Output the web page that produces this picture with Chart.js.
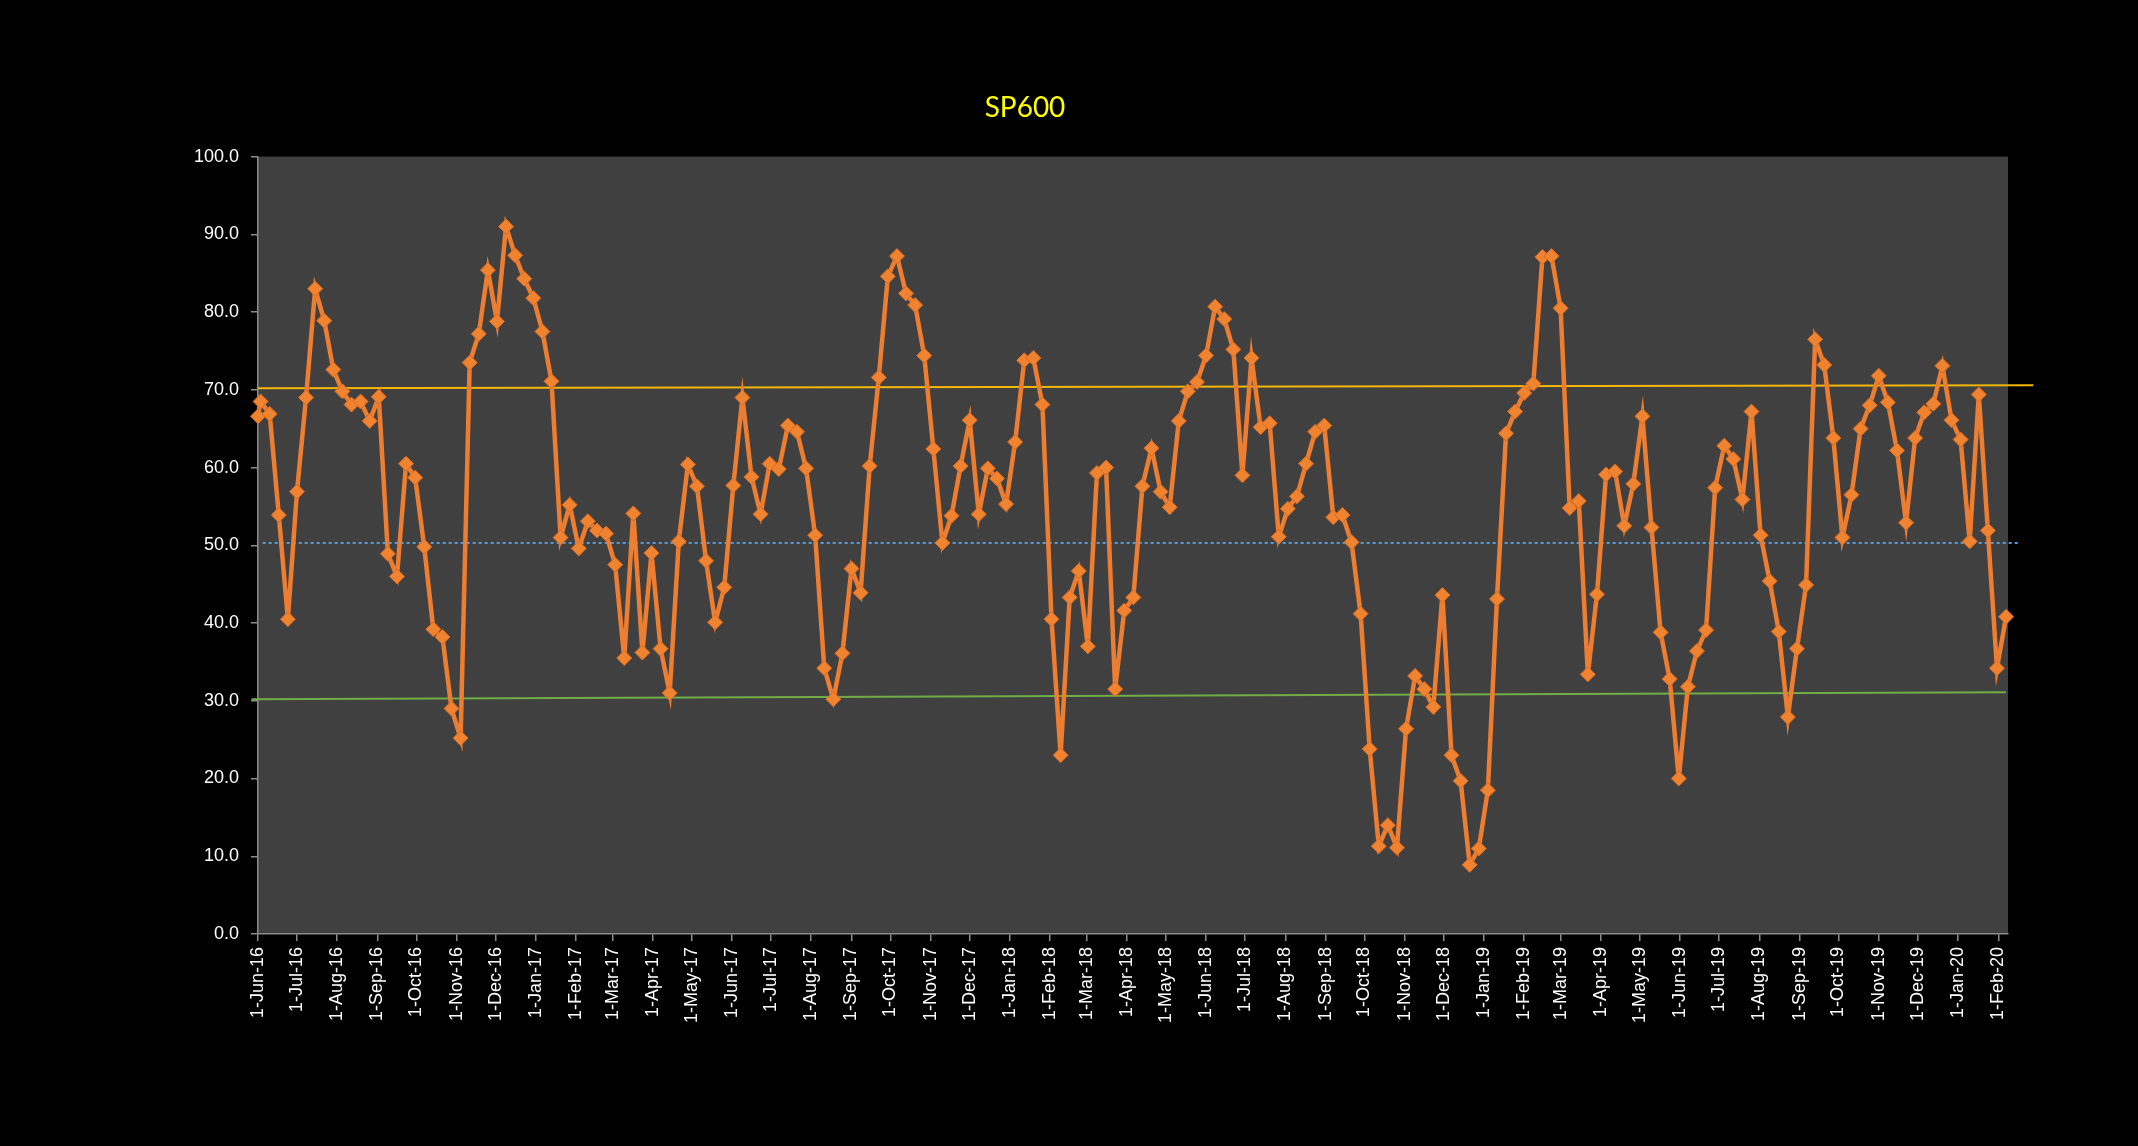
<!DOCTYPE html>
<html>
<head>
<meta charset="utf-8">
<title>SP600</title>
<script src="https://cdn.jsdelivr.net/npm/chart.js@4.4.1/dist/chart.umd.min.js"></script>
<style>
    html, body { margin: 0; padding: 0; background: #000; }
    canvas { display: block; }
</style>
</head>
<body>
<canvas id="sp600-chart" width="2138" height="1146"></canvas>
<script>
// weekly readings, first one on 1-Jun-16 then every Friday from 3-Jun-16
const sp600 = [
    66.6, 68.5, 66.9, 53.9, 40.5, 56.9, 69.0, 83.0, 78.9, 72.6,
    69.8, 68.1, 68.5, 66.0, 69.1, 48.9, 46.0, 60.5, 58.7, 49.8,
    39.2, 38.2, 29.0, 25.2, 73.5, 77.2, 85.4, 78.8, 91.0, 87.3,
    84.3, 81.8, 77.5, 71.1, 51.0, 55.2, 49.6, 53.1, 51.9, 51.5,
    47.5, 35.5, 54.1, 36.2, 49.0, 36.7, 31.0, 50.5, 60.4, 57.6,
    48.0, 40.1, 44.6, 57.7, 69.0, 58.8, 54.0, 60.5, 59.8, 65.4,
    64.6, 59.9, 51.3, 34.2, 30.2, 36.1, 47.0, 43.9, 60.2, 71.6,
    84.6, 87.2, 82.4, 80.9, 74.4, 62.4, 50.3, 53.8, 60.2, 66.1,
    54.0, 59.9, 58.6, 55.3, 63.3, 73.8, 74.1, 68.1, 40.5, 23.0,
    43.3, 46.7, 37.0, 59.3, 60.0, 31.5, 41.6, 43.3, 57.6, 62.5,
    56.9, 54.9, 66.0, 69.8, 71.0, 74.4, 80.7, 79.1, 75.2, 59.0,
    74.1, 65.2, 65.7, 51.1, 54.7, 56.3, 60.5, 64.6, 65.4, 53.6,
    53.9, 50.4, 41.2, 23.8, 11.3, 14.0, 11.1, 26.4, 33.2, 31.5,
    29.2, 43.6, 23.0, 19.7, 8.9, 11.0, 18.5, 43.1, 64.4, 67.2,
    69.6, 70.8, 87.1, 87.2, 80.5, 54.8, 55.7, 33.4, 43.7, 59.1,
    59.5, 52.5, 57.9, 66.6, 52.3, 38.8, 32.8, 20.0, 31.8, 36.4,
    39.1, 57.4, 62.8, 61.1, 55.9, 67.2, 51.3, 45.4, 38.9, 27.9,
    36.7, 44.9, 76.5, 73.2, 63.8, 51.0, 56.5, 65.0, 68.0, 71.8,
    68.4, 62.2, 52.9, 63.8, 67.1, 68.2, 73.1, 66.1, 63.6, 50.5,
    69.4, 51.9, 34.2, 40.8
];

// level lines (start, end)
const upperLine = [70.2, 70.6];
const midLine = [50.3, 50.3];
const lowerLine = [30.2, 31.1];

const yTicks = [0, 10, 20, 30, 40, 50, 60, 70, 80, 90, 100];
const monthNames = ['Jan', 'Feb', 'Mar', 'Apr', 'May', 'Jun', 'Jul', 'Aug', 'Sep', 'Oct', 'Nov', 'Dec'];

const DAY = 86400000;
const startDay = Date.UTC(2016, 5, 1);
const firstFriday = Date.UTC(2016, 5, 3);

function dayOf(ms) {
    return (ms - startDay) / DAY;
}

// x position of every reading, in days from 1-Jun-16
let pointDays = [0];
for (let i = 1; i < sp600.length; i++) {
    pointDays.push(dayOf(firstFriday) + (i - 1) * 7);
}

// month ticks 1-Jun-16 .. 1-Feb-20
let monthTicks = [];
let monthLabels = {};
for (let y = 2016, m = 5; y < 2020 || (y == 2020 && m <= 1); m++) {
    if (m > 11) { m = 0; y++; }
    if (y == 2020 && m > 1) break;
    let d = dayOf(Date.UTC(y, m, 1));
    monthTicks.push(d);
    monthLabels[d] = '1-' + monthNames[m] + '-' + String(y).slice(2);
}

const plotBg = {
    id: 'plotBg',
    beforeDraw(chart) {
        const a = chart.chartArea;
        const c = chart.ctx;
        c.save();
        c.fillStyle = '#000000';
        c.fillRect(0, 0, chart.width, chart.height);
        c.fillStyle = '#404040';
        c.fillRect(a.left, a.top, a.right - a.left, a.bottom - a.top);
        c.restore();
    }
};

const axisGrey = '#8c8c8c';
const tickFont = { family: "'Liberation Sans', Arial, sans-serif", size: 18 };

const ctx = document.getElementById('sp600-chart');
const myChart = new Chart(ctx, {
    type: 'line',
    data: {
        datasets: [
            {
                label: 'SP600',
                data: sp600.map((v, i) => ({ x: pointDays[i], y: v })),
                borderColor: '#ED7D31',
                borderWidth: 4.5,
                pointStyle: 'rectRot',
                pointRadius: 7.5,
                pointBackgroundColor: '#F0832F',
                pointBorderColor: '#D96A22',
                pointBorderWidth: 1,
                tension: 0,
                clip: false
            },
            {
                label: 'upper',
                data: [{ x: 0, y: upperLine[0] }, { x: 1367, y: upperLine[1] }],
                borderColor: '#F5B70A',
                borderWidth: 2,
                pointRadius: 0,
                clip: false
            },
            {
                label: 'mid',
                data: [{ x: 3.6, y: midLine[0] }, { x: 1357, y: midLine[1] }],
                borderColor: '#5B9BD5',
                borderWidth: 2,
                borderDash: [3, 3],
                pointRadius: 0,
                clip: false
            },
            {
                label: 'lower',
                data: [{ x: -5, y: lowerLine[0] }, { x: 1346, y: lowerLine[1] }],
                borderColor: '#70AD47',
                borderWidth: 2,
                pointRadius: 0,
                clip: false
            }
        ]
    },
    options: {
        responsive: false,
        devicePixelRatio: 1,
        animation: false,
        layout: { padding: { top: 0, left: 42, right: 130, bottom: 0 } },
        plugins: {
            legend: { display: false },
            tooltip: { enabled: false },
            title: {
                display: true,
                text: 'SP600',
                color: '#FFFF00',
                font: { family: "Lato, 'Open Sans', sans-serif", size: 28, weight: 'normal', lineHeight: 1.2 },
                padding: { top: 91, bottom: 32 }
            }
        },
        scales: {
            x: {
                type: 'linear',
                min: 0,
                max: 1347.5,
                afterBuildTicks: (scale) => {
                    scale.ticks = monthTicks.map(v => ({ value: v }));
                },
                afterFit: (scale) => { scale.height = 212; },
                ticks: {
                    callback: (v) => monthLabels[v],
                    autoSkip: false,
                    maxRotation: 90,
                    minRotation: 90,
                    color: '#ffffff',
                    padding: 6,
                    font: tickFont
                },
                grid: { display: true, drawOnChartArea: false, drawTicks: true, tickLength: 7, color: axisGrey, lineWidth: 1.5 },
                border: { display: true, color: axisGrey, width: 1.5 }
            },
            y: {
                min: 0,
                max: 100,
                afterBuildTicks: (scale) => {
                    scale.ticks = yTicks.map(v => ({ value: v }));
                },
                afterFit: (scale) => { scale.width = 216; },
                ticks: {
                    callback: (v) => v.toFixed(1),
                    color: '#ffffff',
                    padding: 12,
                    font: tickFont
                },
                grid: { display: true, drawOnChartArea: false, drawTicks: true, tickLength: 7, color: axisGrey, lineWidth: 1.5 },
                border: { display: true, color: axisGrey, width: 1.5 }
            }
        }
    },
    plugins: [plotBg]
});
</script>
</body>
</html>
